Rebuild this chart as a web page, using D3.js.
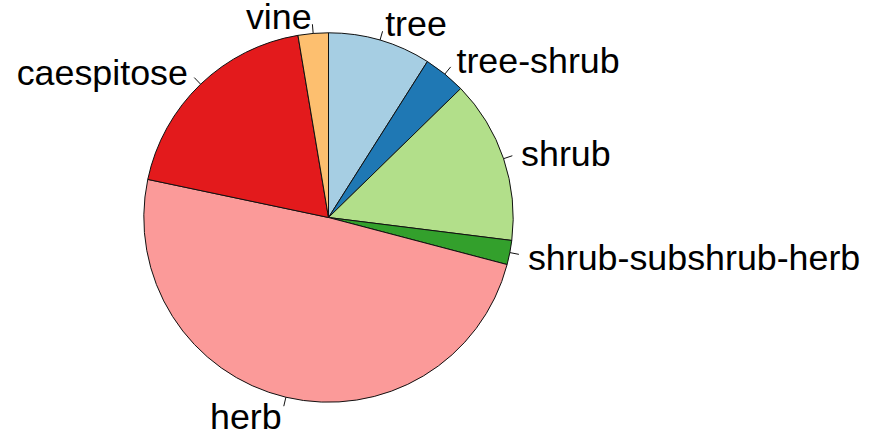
<!DOCTYPE html>
<html>
<head>
<meta charset="utf-8">
<script src="https://cdn.jsdelivr.net/npm/d3@7"></script>
<style>
  html, body { margin: 0; padding: 0; background: #fff; }
  svg { display: block; }
</style>
</head>
<body>
<svg id="chart" width="874" height="434"></svg>
<script>
const categories = ["tree", "tree-shrub", "shrub", "shrub-subshrub-herb", "herb", "caespitose", "vine"];
const counts = [17, 7, 27, 4, 93, 36, 5];
const colors = ["#A6CEE3", "#1F78B4", "#B2DF8A", "#33A02C", "#FB9A99", "#E31A1C", "#FDBF6F"];

const cx = 328.5, cy = 217.5, r = 184.7;
const svg = d3.select("#chart");
const g = svg.append("g").attr("transform", `translate(${cx},${cy})`);

const data = categories.map((c, i) => ({ name: c, value: counts[i], color: colors[i] }));
const pie = d3.pie().sort(null).value(d => d.value).startAngle(0).endAngle(2 * Math.PI);
const arcs = pie(data);
const arc = d3.arc().innerRadius(0).outerRadius(r);

g.selectAll("path.slice")
  .data(arcs)
  .join("path")
  .attr("class", "slice")
  .attr("d", arc)
  .attr("fill", d => d.data.color)
  .attr("stroke", "#111")
  .attr("stroke-width", 1)
  .attr("stroke-linejoin", "round");

const mid = d => (d.startAngle + d.endAngle) / 2;

g.selectAll("line.tick")
  .data(arcs)
  .join("line")
  .attr("class", "tick")
  .attr("x1", d => r * Math.sin(mid(d)))
  .attr("y1", d => -r * Math.cos(mid(d)))
  .attr("x2", d => 1.05 * r * Math.sin(mid(d)))
  .attr("y2", d => -1.05 * r * Math.cos(mid(d)))
  .attr("stroke", "#111")
  .attr("stroke-width", 1);

g.selectAll("text.label")
  .data(arcs)
  .join("text")
  .attr("class", "label")
  .attr("x", d => 1.1 * r * Math.sin(mid(d)))
  .attr("y", d => -1.1 * r * Math.cos(mid(d)))
  .attr("dy", "0.38em")
  .attr("text-anchor", d => Math.sin(mid(d)) < 0 ? "end" : "start")
  .attr("font-family", "Liberation Sans, Arial, sans-serif")
  .attr("font-size", 35.8)
  .attr("fill", "#000")
  .text(d => d.data.name);
</script>
</body>
</html>
